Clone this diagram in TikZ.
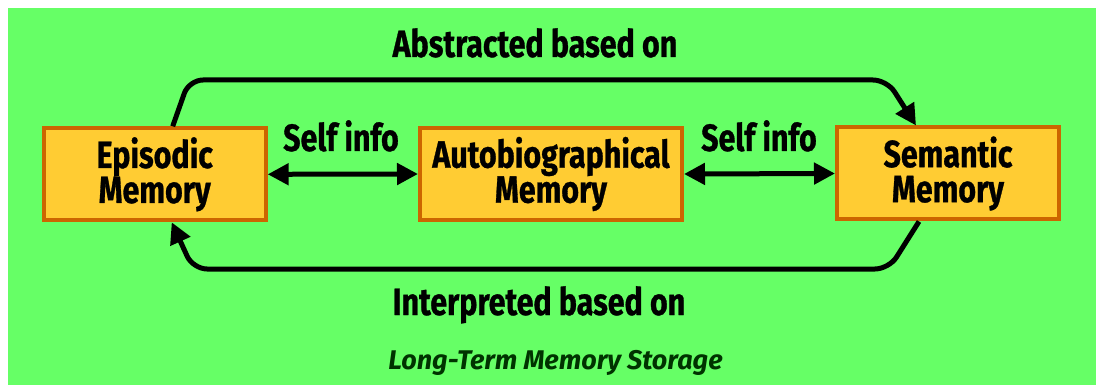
\documentclass[tikz,border=0pt]{standalone}
\usepackage{fontspec}
\setmainfont[FakeStretch=0.8, BoldFeatures={FakeBold=0.8}]{Fira Sans}
\newfontfamily\ltmfont{Fira Sans}
\usetikzlibrary{arrows.meta}
\definecolor{bggreen}{HTML}{66FF66}
\definecolor{boxfill}{HTML}{FFCC33}
\definecolor{boxborder}{HTML}{CC6600}
\definecolor{darkgreen}{HTML}{003300}
\tikzset{
  memb/.style={draw=boxborder, fill=boxfill, line width=4pt, minimum height=92pt,
    inner sep=0pt, align=center, font=\bfseries\fontsize{38}{35}\selectfont},
  lbl/.style={font=\bfseries\fontsize{38}{35}\selectfont, inner sep=0pt, anchor=base},
  conn/.style={line width=5pt, draw=black},
  mytip/.tip={Triangle[length=21pt,width=21pt]},
  curved/.style={rounded corners=14pt}
}
\begin{document}
\begin{tikzpicture}[x=1pt,y=-1pt]
\useasboundingbox (0,0) rectangle (1096,385);
\fill[white] (0,0) rectangle (1096,385);
\fill[bggreen] (8,8) rectangle (1096,385);

\node[memb, minimum width=222pt] (epi) at (154.7,174.3) {Episodic\\Memory};
\node[memb, minimum width=262pt] (auto) at (551,174) {Autobiographical\\Memory};
\node[memb, minimum width=222pt] (sem) at (948,173.5) {Semantic\\Memory};

\draw[conn, mytip-mytip] (epi.east) -- (auto.west);
\draw[conn, mytip-mytip] (auto.east) -- (sem.west);

\coordinate (t1) at (189,80);
\coordinate (t2) at (887,80);
\coordinate (b1) at (889,269);
\coordinate (b2) at (193,269);
\draw[conn, curved, -mytip] ([xshift=18pt]epi.north) -- (t1) -- (t2) -- ([xshift=-32pt]sem.north);
\draw[conn, curved, -mytip] ([xshift=-29pt]sem.south) -- (b1) -- (b2) -- ([xshift=17pt]epi.south);

\node[lbl] (abs) at (535,57) {Abstracted based on};
\node[lbl] (self1) at (341,151) {Self info};
\node[lbl] (self2) at (759,151) {Self info};
\node[lbl] (int) at (539,315) {Interpreted based on};
\node[font=\ltmfont\bfseries\itshape\fontsize{27}{30}\selectfont, text=darkgreen, inner sep=0pt, anchor=base] (ltm) at (555.5,369) {Long-Term Memory Storage};
\end{tikzpicture}
\end{document}
